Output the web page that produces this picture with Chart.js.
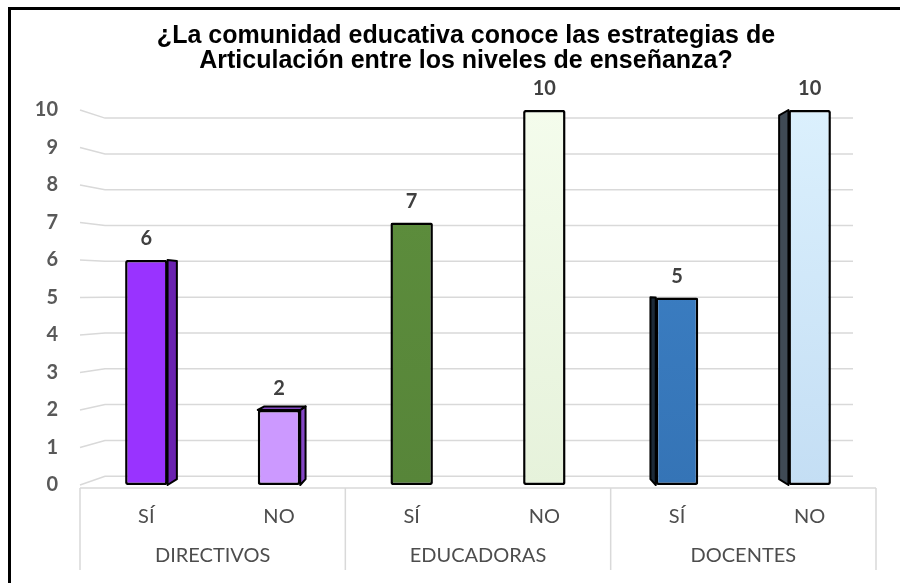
<!DOCTYPE html>
<html>
<head>
<meta charset="utf-8">
<script src="https://cdn.jsdelivr.net/npm/chart.js@4.4.1/dist/chart.umd.min.js"></script>
<style>
  body { margin: 0; background: #fff; }
  canvas { display: block; }
</style>
</head>
<body>
<canvas id="chart" width="900" height="583"></canvas>
<script>
// data
const categories = ['SÍ', 'NO', 'SÍ', 'NO', 'SÍ', 'NO'];
const groups = ['DIRECTIVOS', 'EDUCADORAS', 'DOCENTES'];
const values = [6, 2, 7, 10, 5, 10];
const titleLines = ['¿La comunidad educativa conoce las estrategias de', 'Articulación entre los niveles de enseñanza?'];
const yMax = 10;

// bar colours (front top, front bottom, side)
const frontTop = ['#9933FF', '#CC99FF', '#5E8F3D', '#F4FCEC', '#3E83C9', '#DBF0FD'];
const frontBottom = ['#9933FF', '#CC99FF', '#578539', '#E6F2DB', '#3574B6', '#C4DEF4'];
const sideColors = ['#6A22B0', '#8447C4', '#3E6128', '#AFC29E', '#1C2A38', '#3F4A55'];

function barFill(ctx) {
    const chart = ctx.chart;
    const i = ctx.dataIndex;
    const area = chart.chartArea;
    if (!area) return frontTop[i];
    const g = chart.ctx.createLinearGradient(0, area.top, 0, area.bottom);
    g.addColorStop(0, frontTop[i]);
    g.addColorStop(1, frontBottom[i]);
    return g;
}

// back wall grid, floor box, 3d sides of the bars, value labels, title
const depthPlugin = {
    id: 'depth',
    beforeDatasetsDraw(chart) {
        const ctx = chart.ctx;
        const area = chart.chartArea;
        const x = chart.scales.x;
        const y = chart.scales.y;
        const x2 = chart.scales.x2;
        const vx = (area.left + area.right) / 2;
        const vy = y.getPixelForValue(5.2);
        const base = y.getPixelForValue(0);

        ctx.save();
        ctx.strokeStyle = '#D9D9D9';
        ctx.lineWidth = 1.5;
        y.ticks.forEach(t => {
            const yf = y.getPixelForValue(t.value);
            const yb = vy + (yf - vy) * 0.955;
            ctx.beginPath();
            ctx.moveTo(area.left, yf);
            ctx.lineTo(area.left + 25, yb);
            ctx.lineTo(area.right - 23, yb);
            ctx.stroke();
        });

        // floor box + group separators
        const fy = base + 3;
        ctx.beginPath();
        ctx.moveTo(area.left, fy);
        ctx.lineTo(area.right, fy);
        const seps = [area.left,
            (x.getPixelForValue(1) + x.getPixelForValue(2)) / 2,
            (x.getPixelForValue(3) + x.getPixelForValue(4)) / 2,
            area.right];
        seps.forEach(sx => {
            ctx.moveTo(sx, fy);
            ctx.lineTo(sx, x2.bottom);
        });
        ctx.stroke();

        // sides
        const k = 0.97;
        const meta = chart.getDatasetMeta(0);
        ctx.strokeStyle = '#000';
        ctx.lineWidth = 2;
        ctx.lineJoin = 'round';
        meta.data.forEach((bar, i) => {
            const p = bar.getProps(['x', 'y', 'base', 'width'], true);
            const l = p.x - p.width / 2, r = p.x + p.width / 2, t = p.y, b = p.base;
            const pr = (px, py) => [vx + (px - vx) * k, vy + (py - vy) * k];
            const [bl, bt] = pr(l, t);
            const [br, bb] = pr(r, b);
            ctx.fillStyle = sideColors[i];
            const quads = [];
            if (br > r + 1.5) quads.push([[r, t], [br, bt], [br, bb], [r, b]]);
            if (bl < l - 1.5) quads.push([[l, t], [bl, bt], [bl, bb], [l, b]]);
            if (bt < t - 1) quads.push([[l, t], [bl, bt], [br, bt], [r, t]]);
            quads.forEach(q => {
                ctx.beginPath();
                ctx.moveTo(q[0][0], q[0][1]);
                for (let j = 1; j < q.length; j++) ctx.lineTo(q[j][0], q[j][1]);
                ctx.closePath();
                ctx.fill();
                ctx.stroke();
            });
        });
        ctx.restore();
    },
    afterDatasetsDraw(chart) {
        const ctx = chart.ctx;
        const meta = chart.getDatasetMeta(0);
        ctx.save();
        ctx.font = 'bold 20px Lato';
        ctx.fillStyle = '#404040';
        ctx.textAlign = 'center';
        ctx.textBaseline = 'middle';
        meta.data.forEach((bar, i) => {
            ctx.fillText(values[i], bar.x, bar.y - 21);
        });
        ctx.restore();
    },
    afterDraw(chart) {
        const ctx = chart.ctx;
        ctx.save();
        // title
        ctx.font = 'bold 25px "Liberation Sans"';
        ctx.fillStyle = '#000';
        ctx.textAlign = 'center';
        ctx.textBaseline = 'middle';
        titleLines.forEach((line, i) => ctx.fillText(line, 466, 36 + i * 25));
        // frame
        ctx.fillRect(8, 7, chart.width - 8, 3);
        ctx.fillRect(8, 7, 3, chart.height - 7);
        ctx.restore();
    }
};

new Chart(document.getElementById('chart'), {
    type: 'bar',
    data: {
        labels: categories,
        datasets: [{
            data: values,
            backgroundColor: barFill,
            borderColor: '#000',
            borderWidth: 2.5,
            borderRadius: 2,
            borderSkipped: false,
            barPercentage: 0.32,
            categoryPercentage: 1
        }]
    },
    options: {
        responsive: false,
        animation: false,
        layout: { padding: { left: 12, right: 24, top: 110, bottom: 13 } },
        plugins: {
            legend: { display: false },
            tooltip: { enabled: false },
            title: { display: false }
        },
        scales: {
            y: {
                min: 0,
                max: yMax,
                afterFit(scale) { scale.width = 68; },
                border: { display: false },
                grid: { display: false, drawTicks: false },
                ticks: {
                    stepSize: 1,
                    padding: 22,
                    color: '#595959',
                    font: { family: 'Lato', size: 20, weight: 'bold' }
                }
            },
            x: {
                afterFit(scale) { scale.height = 42; },
                border: { display: false },
                grid: { display: false, drawTicks: false },
                ticks: {
                    padding: 20,
                    color: '#4d4d4d',
                    maxRotation: 0,
                    font: { family: 'Lato', size: 20 }
                }
            },
            x2: {
                type: 'category',
                labels: groups,
                position: 'bottom',
                afterFit(scale) { scale.height = 43; },
                border: { display: false },
                grid: { display: false, drawTicks: false },
                ticks: {
                    padding: 17,
                    color: '#4d4d4d',
                    maxRotation: 0,
                    font: { family: 'Lato', size: 20 }
                }
            }
        }
    },
    plugins: [depthPlugin]
});
</script>
</body>
</html>
